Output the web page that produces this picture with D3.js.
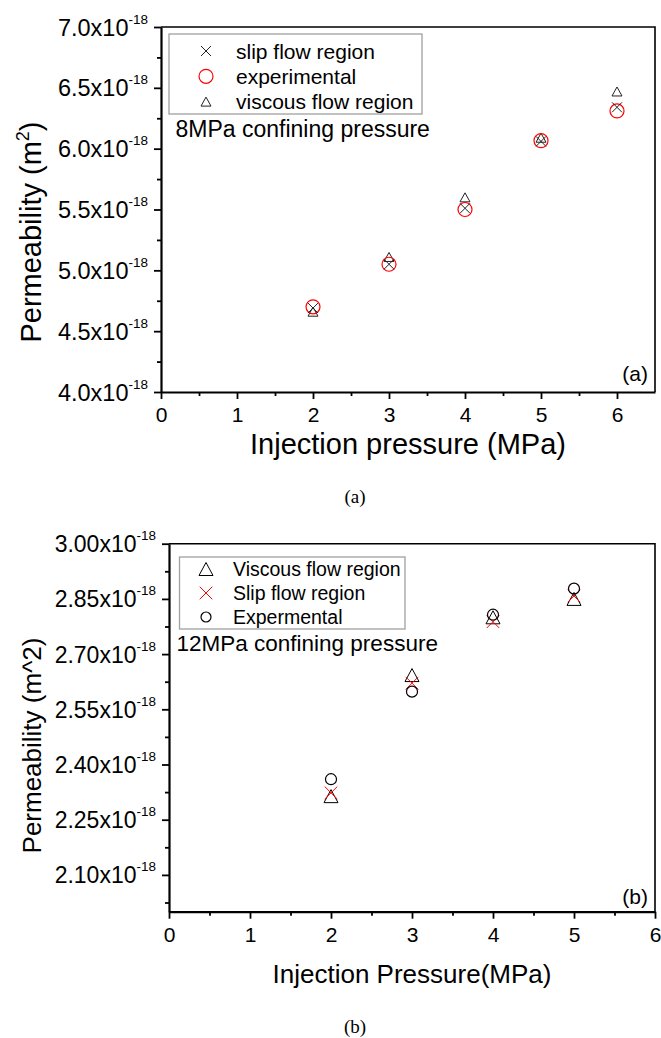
<!DOCTYPE html>
<html>
<head>
<meta charset="utf-8">
<script src="https://cdn.jsdelivr.net/npm/d3@7"></script>
<style>
  html, body { margin: 0; padding: 0; background: #fff; }
  svg { display: block; }
  text { font-family: "Liberation Sans", Arial, sans-serif; fill: #000; }
</style>
</head>
<body>
<svg id="chart" width="661" height="1038"></svg>
<script>
// ---------- Panel (a): 8 MPa confining pressure ----------
const pressureA = [2, 3, 4, 5, 6];
const slipA     = [4.69, 5.05, 5.51, 6.06, 6.34];
const expA      = [4.70, 5.05, 5.50, 6.066, 6.31];
const viscousA  = [4.66, 5.11, 5.60, 6.09, 6.47];
const xTicksA   = [0, 1, 2, 3, 4, 5, 6];
const yTicksA   = [4.0, 4.5, 5.0, 5.5, 6.0, 6.5, 7.0];
const legendA   = ["slip flow region", "experimental", "viscous flow region"];

// ---------- Panel (b): 12 MPa confining pressure ----------
const pressureB = [2, 3, 4, 5];
const viscousB  = [2.314, 2.643, 2.80, 2.85];
const slipB     = [2.323, 2.621, 2.788, 2.858];
const expB      = [2.360, 2.598, 2.807, 2.878];
const xTicksB   = [0, 1, 2, 3, 4, 5, 6];
const yTicksB   = [2.10, 2.25, 2.40, 2.55, 2.70, 2.85, 3.00];
const legendB   = ["Viscous flow region", "Slip flow region", "Expermental"];

const svg = d3.select("#chart");

function crossPath(s) { return `M${-s},${-s}L${s},${s}M${-s},${s}L${s},${-s}`; }
function triPath(w, h) { return `M0,${-h/2}L${w/2},${h/2}L${-w/2},${h/2}Z`; }

function drawMarker(g, type, cx, cy, o) {
  if (type === "x") {
    g.append("path").attr("d", crossPath(o.xs)).attr("transform", `translate(${cx},${cy})`)
      .attr("fill", "none").attr("stroke", o.color).attr("stroke-width", 1);
  } else if (type === "o") {
    g.append("circle").attr("cx", cx).attr("cy", cy).attr("r", o.r)
      .attr("fill", "none").attr("stroke", o.color).attr("stroke-width", 1.2);
  } else {
    g.append("path").attr("d", triPath(o.tw, o.th)).attr("transform", `translate(${cx},${cy})`)
      .attr("fill", "none").attr("stroke", o.color).attr("stroke-width", 1);
  }
}

function panel(cfg) {
  const g = svg.append("g");
  const x = d3.scaleLinear().domain(cfg.xDomain).range([cfg.left, cfg.right]);
  const y = d3.scaleLinear().domain(cfg.yDomain).range([cfg.bottom, cfg.top]);

  // frame top/right
  g.append("path")
    .attr("d", `M${cfg.left},${cfg.top}H${cfg.right}V${cfg.bottom}`)
    .attr("fill", "none").attr("stroke", "#000").attr("stroke-width", 1.6);

  // minor ticks
  const xMinor = cfg.xTicks.slice(0, -1).map(v => v + 0.5).filter(v => v < cfg.xDomain[1]);
  const gxm = g.append("g").attr("transform", `translate(0,${cfg.bottom})`)
    .call(d3.axisBottom(x).tickValues(xMinor).tickSize(4).tickSizeOuter(0).tickFormat(""));
  const yMinor = [];
  for (let i = 0; i < cfg.yTicks.length; i++) {
    const v = cfg.yTicks[i] - cfg.yStep / 2;
    if (v > cfg.yDomain[0]) yMinor.push(v);
  }
  const gym = g.append("g").attr("transform", `translate(${cfg.left},0)`)
    .call(d3.axisLeft(y).tickValues(yMinor).tickSize(4).tickSizeOuter(0).tickFormat(""));
  [gxm, gym].forEach(a => { a.select(".domain").remove(); a.selectAll("line").attr("stroke-width", 1.8); });

  // x axis
  const gx = g.append("g").attr("transform", `translate(0,${cfg.bottom})`)
    .call(d3.axisBottom(x).tickValues(cfg.xTicks).tickSize(7).tickSizeOuter(0).tickPadding(8).tickFormat(d3.format("d")));
  gx.select(".domain").attr("stroke-width", 2.2);
  gx.selectAll("line").attr("stroke-width", 1.8);
  gx.selectAll("text").attr("font-size", cfg.xTickFont).attr("dy", null).attr("y", 30)
    .style("font-family", '"Liberation Sans", Arial, sans-serif');

  // y axis
  const fmt = d3.format(cfg.yFmt);
  const gy = g.append("g").attr("transform", `translate(${cfg.left},0)`)
    .call(d3.axisLeft(y).tickValues(cfg.yTicks).tickSize(7).tickSizeOuter(0).tickPadding(6).tickFormat(""));
  gy.select(".domain").attr("stroke-width", 2.2);
  gy.selectAll("line").attr("stroke-width", 1.8);
  gy.selectAll(".tick").each(function(d) {
    const t = d3.select(this).select("text");
    t.attr("dy", null).attr("y", 8).attr("x", -13).attr("text-anchor", "end")
      .attr("font-size", cfg.yTickFont)
      .style("font-family", '"Liberation Sans", Arial, sans-serif');
    t.append("tspan").text(fmt(d) + "x10");
    t.append("tspan").attr("font-size", 13.5).attr("dy", -12).text("-18");
  });

  // axis titles
  const yt = g.append("text").attr("text-anchor", "middle")
    .attr("transform", `translate(${cfg.yTitleX},${cfg.yTitleY}) rotate(-90)`)
    .attr("font-size", cfg.yTitleFont);
  cfg.yTitleParts.forEach(p => {
    const ts = yt.append("tspan").text(p.t);
    if (p.sup) ts.attr("font-size", cfg.yTitleFont * 0.62).attr("dy", -cfg.yTitleFont * 0.42);
    if (p.after) ts.attr("dy", cfg.yTitleFont * 0.42);
  });
  g.append("text").attr("x", (cfg.left + cfg.right) / 2).attr("y", cfg.xTitleY)
    .attr("text-anchor", "middle").attr("font-size", cfg.xTitleFont).text(cfg.xTitle);

  // panel tag inside
  g.append("text").attr("x", cfg.right - 7).attr("y", cfg.tagY).attr("text-anchor", "end")
    .attr("font-size", 21).text(cfg.tag);

  // caption
  g.append("text").attr("x", 355).attr("y", cfg.captionY).attr("text-anchor", "middle")
    .attr("font-size", 19).style("font-family", '"Liberation Serif", "Times New Roman", serif')
    .text(cfg.tag);

  // legend
  const L = cfg.legend;
  g.append("rect").attr("x", L.x).attr("y", L.y).attr("width", L.w).attr("height", L.h)
    .attr("fill", "#fff").attr("stroke", "#a0a0a0").attr("stroke-width", 1.3);
  cfg.series.forEach((s, i) => {
    const cy = L.firstY + i * L.step;
    drawMarker(g, s.type, L.mx, cy, s.legendOpt || s.opt);
    g.append("text").attr("x", L.tx).attr("y", cy + L.textDy).attr("font-size", L.font).text(s.name);
  });
  g.append("text").attr("x", cfg.note.x).attr("y", cfg.note.y).attr("font-size", cfg.note.font).text(cfg.note.text);

  // points (draw in given order)
  cfg.drawOrder.forEach(idx => {
    const s = cfg.series[idx];
    s.values.forEach((v, i) => drawMarker(g, s.type, x(cfg.xs[i]), y(v), s.opt));
  });
}

panel({
  xDomain: [0, 6.5], yDomain: [4.0, 7.0],
  left: 161, right: 655, top: 27, bottom: 392,
  xTicks: xTicksA, yTicks: yTicksA, yStep: 0.5, yFmt: ".1f",
  xTickFont: 21, yTickFont: 23.5,
  yTitleParts: [{t: "Permeability (m"}, {t: "2", sup: true}, {t: ")", after: true}],
  yTitleX: 41, yTitleY: 232, yTitleFont: 29,
  xTitle: "Injection pressure (MPa)", xTitleY: 454, xTitleFont: 29,
  tag: "(a)", tagY: 381, captionY: 503,
  xs: pressureA,
  series: [
    {name: legendA[0], type: "x", values: slipA, opt: {xs: 5, color: "#222"}},
    {name: legendA[1], type: "o", values: expA, opt: {r: 7, color: "#ff0000"}},
    {name: legendA[2], type: "^", values: viscousA, opt: {tw: 10, th: 9, color: "#222"}}
  ],
  drawOrder: [2, 1, 0],
  legend: {x: 169, y: 34, w: 253, h: 80, mx: 206, tx: 236, firstY: 51, step: 25.3, textDy: 7.5, font: 21},
  note: {x: 175.5, y: 136.5, font: 23, text: "8MPa confining pressure"}
});

panel({
  xDomain: [0, 6], yDomain: [2.0, 3.0],
  left: 169, right: 655, top: 543.7, bottom: 911.7,
  xTicks: xTicksB, yTicks: yTicksB, yStep: 0.15, yFmt: ".2f",
  xTickFont: 21, yTickFont: 23,
  yTitleParts: [{t: "Permeability (m^2)"}],
  yTitleX: 41, yTitleY: 745.5, yTitleFont: 26,
  xTitle: "Injection Pressure(MPa)", xTitleY: 983, xTitleFont: 26,
  tag: "(b)", tagY: 904, captionY: 1033,
  xs: pressureB,
  series: [
    {name: legendB[0], type: "^", values: viscousB, opt: {tw: 14, th: 13, color: "#000"}},
    {name: legendB[1], type: "x", values: slipB, opt: {xs: 6.3, color: "#ff0000"}},
    {name: legendB[2], type: "o", values: expB, opt: {r: 5.5, color: "#000"}, legendOpt: {r: 5, color: "#000"}}
  ],
  drawOrder: [0, 1, 2],
  legend: {x: 179.5, y: 557, w: 225.5, h: 72, mx: 206, tx: 233, firstY: 569, step: 24, textDy: 7, font: 19.5},
  note: {x: 176.5, y: 650.5, font: 22.5, text: "12MPa confining pressure"}
});
</script>
</body>
</html>
